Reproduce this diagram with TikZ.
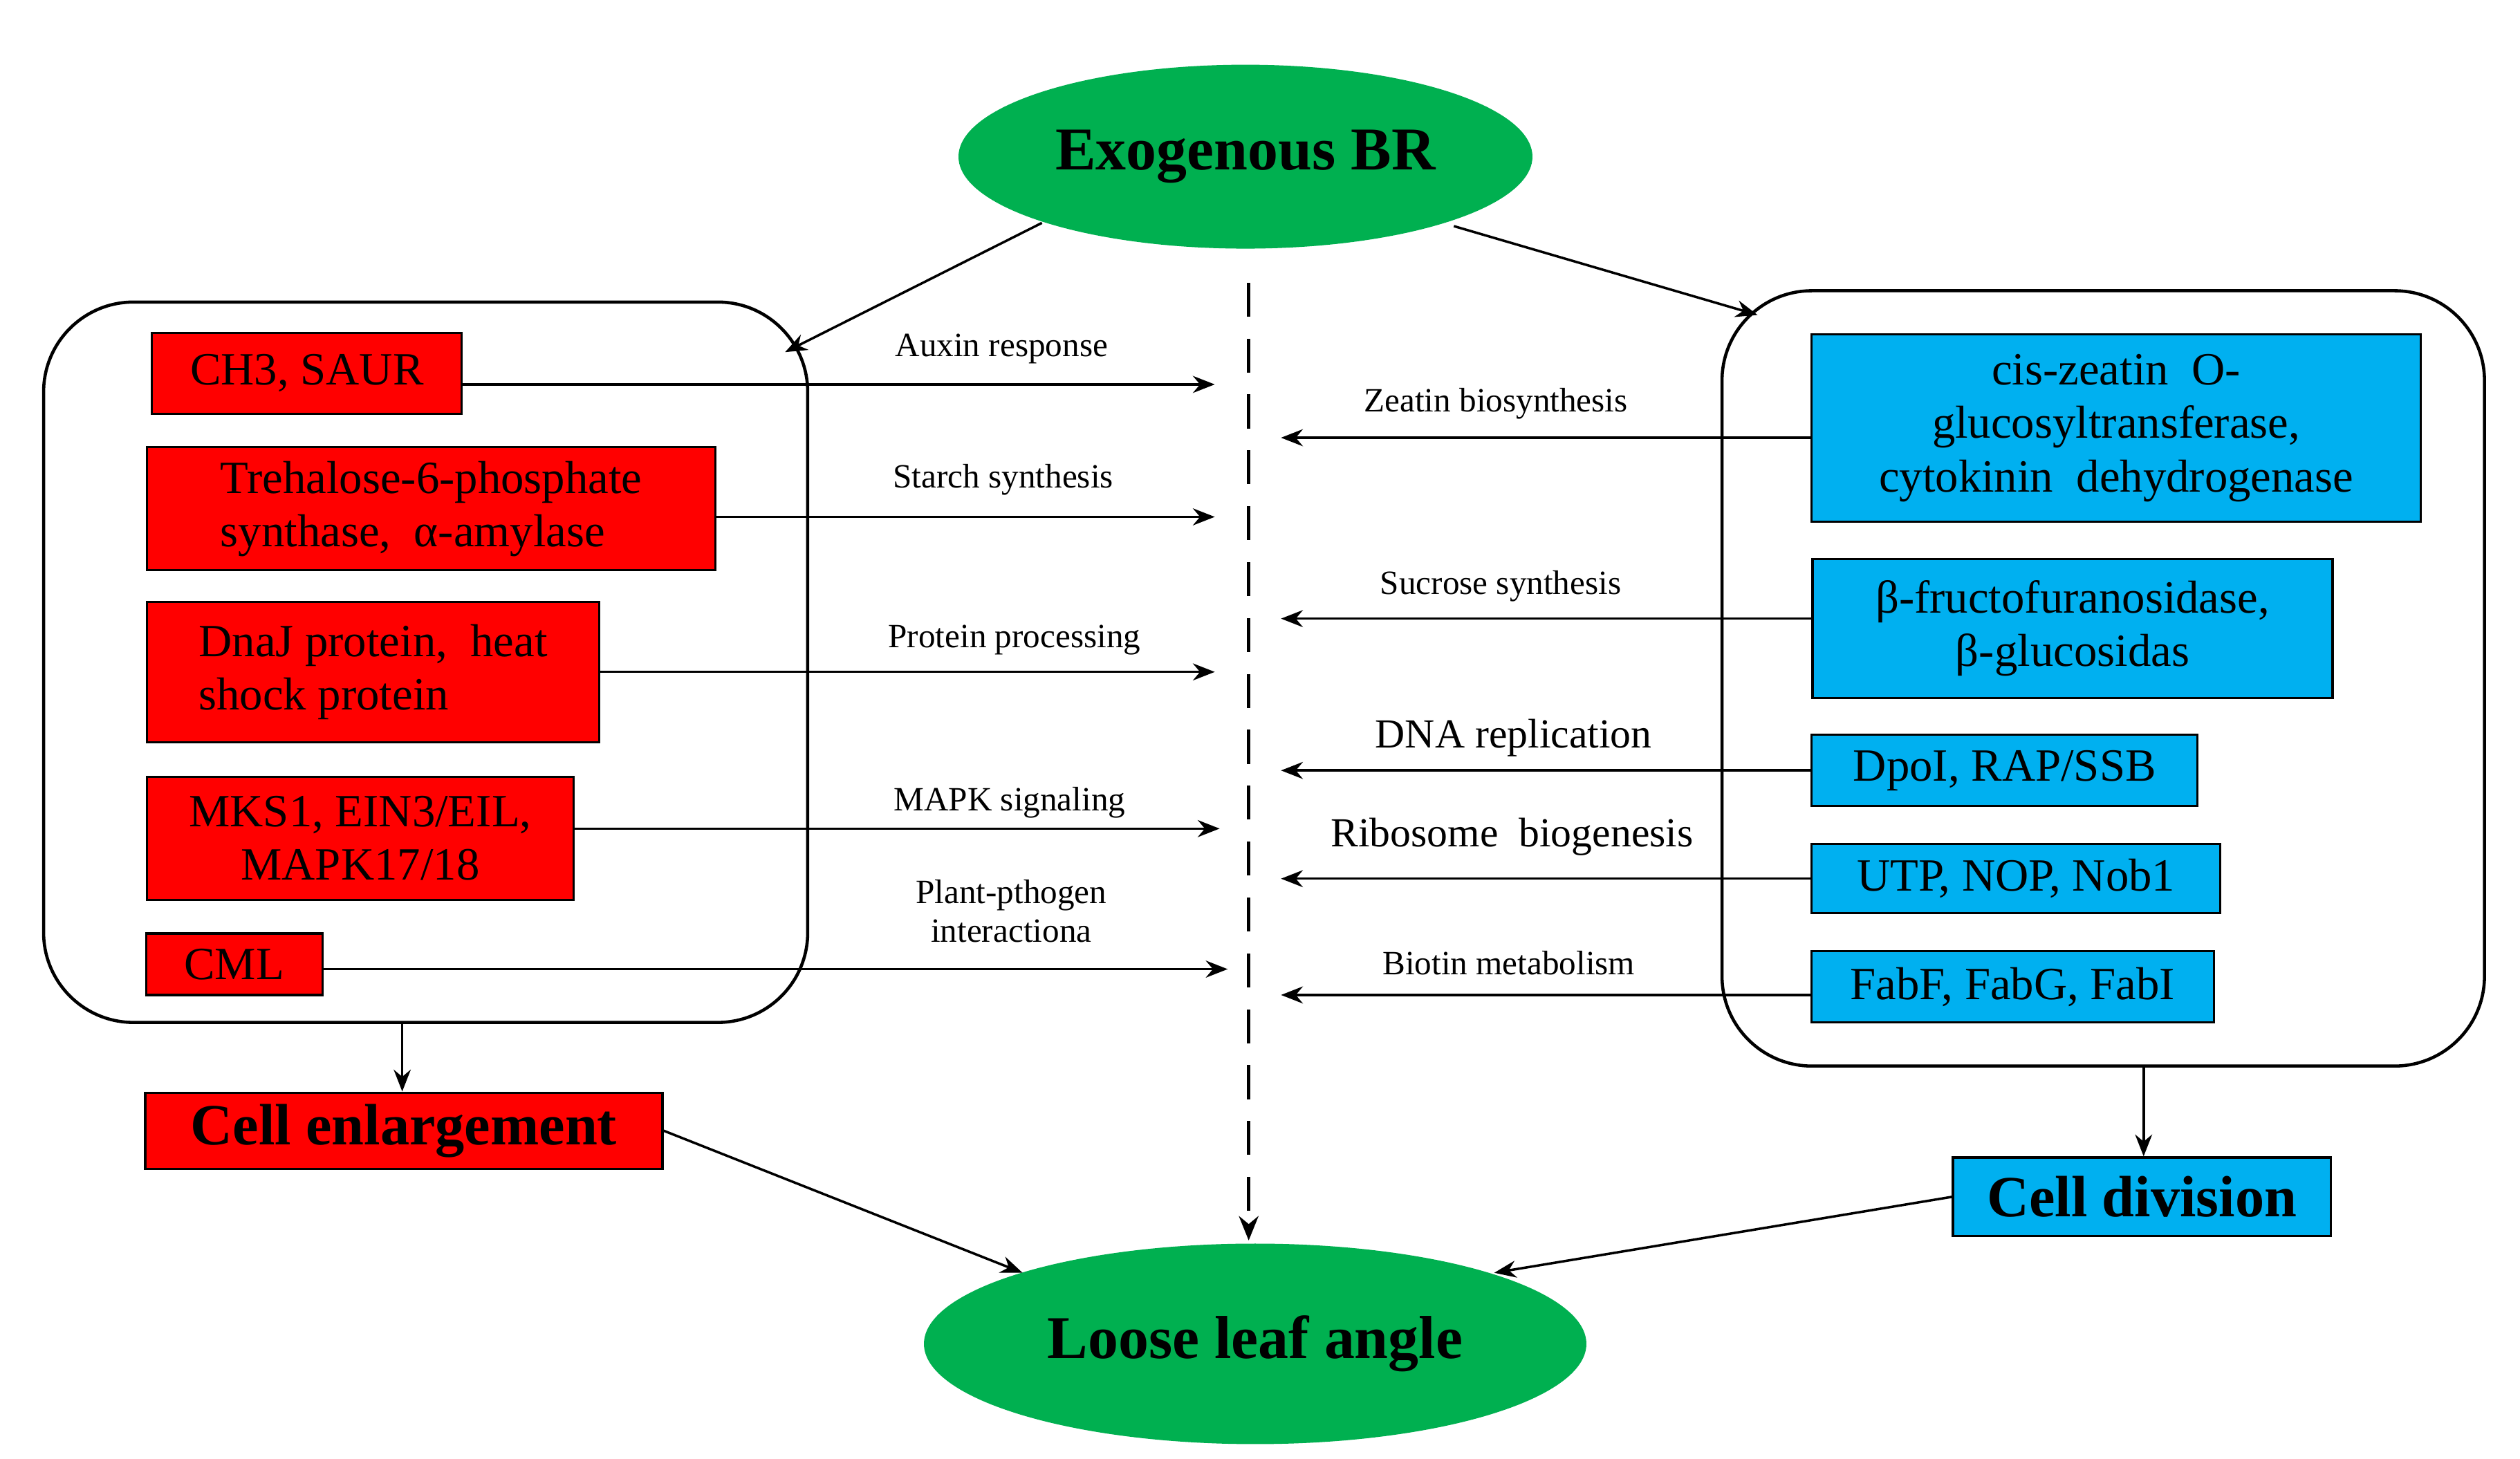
\documentclass[tikz,border=0pt]{standalone}
\usepackage{fontspec}
\setmainfont{Liberation Serif}
\usetikzlibrary{arrows.meta,shapes.geometric,calc}
\definecolor{rd}{HTML}{FF0000}
\definecolor{bl}{HTML}{00B0F0}
\definecolor{gr}{HTML}{00B050}
\begin{document}
\begin{tikzpicture}[x=0.02336cm,y=-0.02336cm,
 box/.style={draw=black,line width=0.9pt,inner sep=2pt,font=\fontsize{19}{22}\selectfont},
 red/.style={box,fill=rd},
 blu/.style={box,fill=bl},
 ell/.style={ellipse,fill=gr,draw=none,font=\fontsize{25}{30}\selectfont\bfseries},
 big/.style={draw=black,line width=1.3pt,rounded corners=1.3cm},
 arr/.style={line width=1pt,-{Stealth[length=9pt,width=7pt]}},
 lab/.style={font=\fontsize{14}{16}\selectfont,align=center},
 labb/.style={font=\fontsize{17}{19}\selectfont}]
\useasboundingbox (0,0) rectangle (1560,903);
\node[ell,minimum width=8.3cm,minimum height=2.66cm] (br) at (771,97) {Exogenous BR};
\node[ell,minimum width=9.58cm,minimum height=2.9cm] (loose) at (777,832) {Loose leaf angle};
\draw[big] (27,187) rectangle (500,633);
\draw[big] (1066,180) rectangle (1538,660);
\coordinate (lb) at (486,218); \coordinate (rb) at (1088,195);
\coordinate (lbb) at (249,633); \coordinate (rbb) at (1327,660);
\coordinate (bl1) at (645,138); \coordinate (br1) at (900,140);
\draw[arr] (bl1) -- (lb);
\draw[arr] (br1) -- (rb);
\coordinate (dtop) at (773,175); \coordinate (dbot) at (773,768);
\draw[line width=1.6pt,dash pattern=on 14pt off 9pt,-{Stealth[length=10pt,width=8pt]}] (dtop) -- (dbot);
% red boxes
\node[red,minimum width=4.48cm,minimum height=1.17cm] (ch3) at (190,231) {CH3, SAUR};
\node[red,minimum width=8.22cm,minimum height=1.78cm,align=left] (tre) at (267,315) {Trehalose-6-phosphate\\synthase,\ \ α-amylase};
\node[red,minimum width=6.54cm,minimum height=2.03cm,align=left] (dna) at (231,416) {DnaJ protein,\ \ heat\\shock protein};
\node[red,minimum width=6.17cm,minimum height=1.78cm,align=center] (mks) at (223,519) {MKS1, EIN3/EIL,\\MAPK17/18};
\node[red,minimum width=2.55cm,minimum height=0.89cm] (cml) at (145,597) {CML};
\node[red,minimum width=7.48cm,minimum height=1.1cm,font=\fontsize{24}{28}\selectfont\bfseries] (ce) at (250,700) {Cell enlargement};
% blue boxes
\node[blu,minimum width=8.81cm,minimum height=2.71cm,align=center] (cis) at (1310,265) {cis-zeatin\ \ O-\\glucosyltransferase,\\cytokinin\ \ dehydrogenase};
\node[blu,minimum width=7.52cm,minimum height=2.01cm,align=center] (fru) at (1283,389) {β-fructofuranosidase,\\β-glucosidas};
\node[blu,minimum width=5.58cm,minimum height=1.03cm] (dpo) at (1241,477) {DpoI, RAP/SSB};
\node[blu,minimum width=5.91cm,minimum height=1.0cm] (utp) at (1248,544) {UTP, NOP, Nob1};
\node[blu,minimum width=5.82cm,minimum height=1.03cm] (fab) at (1246,611) {FabF, FabG, FabI};
\node[blu,minimum width=5.47cm,minimum height=1.14cm,font=\fontsize{24}{28}\selectfont\bfseries] (cd) at (1326,741) {Cell division};
% left arrows
\coordinate (dl) at (752,0); \coordinate (dr) at (793,0);
\draw[arr] (ch3.east) ++(0,7) coordinate (s1) -- (s1 -| dl);
\draw[arr] (tre.east) ++(0,5) coordinate (s2) -- (s2 -| dl);
\draw[arr] (dna.east) -- (dna.east -| dl);
\draw[arr] (mks.east) ++(0,-6) coordinate (s4) -- ($(s4 -| dl)+(3,0)$);
\draw[arr] (cml.east) ++(0,3) coordinate (s5) -- ($(s5 -| dl)+(8,0)$);
\node[lab] (l1) at (620,216) {Auxin response};
\node[lab] (l2) at (621,297) {Starch synthesis};
\node[lab] (l3) at (628,396) {Protein processing};
\node[lab] (l4) at (625,497) {MAPK signaling};
\node[lab] (l5) at (626,564) {Plant-pthogen\\interactiona};
% right arrows
\draw[arr] (cis.west) ++(0,6) coordinate (r1) -- (r1 -| dr);
\draw[arr] (fru.west) ++(0,-6) coordinate (r2) -- (r2 -| dr);
\draw[arr] (dpo.west) -- (dpo.west -| dr);
\draw[arr] (utp.west) -- (utp.west -| dr);
\draw[arr] (fab.west) ++(0,5) coordinate (r5) -- (r5 -| dr);
\node[lab] (m1) at (926,250) {Zeatin biosynthesis};
\node[lab] (m2) at (929,363) {Sucrose synthesis};
\node[labb] (m3) at (937,457) {DNA replication};
\node[labb] (m4) at (936,518) {Ribosome\ \ biogenesis};
\node[lab] (m5) at (934,596) {Biotin metabolism};
% bottom
\draw[arr] (lbb) -- (ce.north -| lbb);
\draw[arr] (rbb) -- (cd.north -| rbb);
\coordinate (le) at (633,788); \coordinate (re) at (925,788);
\draw[arr] (ce.east) -- (le);
\draw[arr] (cd.west) -- (re);
\end{tikzpicture}
\end{document}
